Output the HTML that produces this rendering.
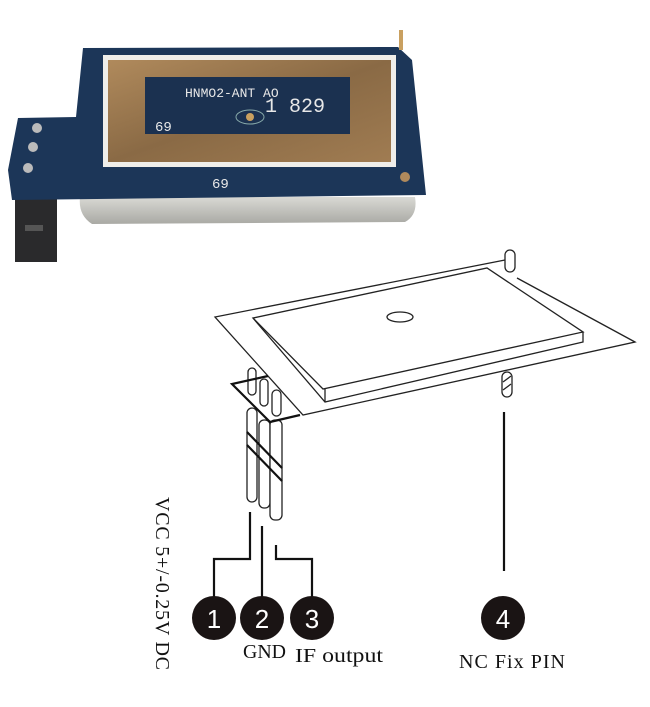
<!DOCTYPE html>
<html><head><meta charset="utf-8"><style>
html,body{margin:0;padding:0;background:#fff;}
svg{display:block}
</style></head><body>
<svg width="650" height="707" viewBox="0 0 650 707" xmlns="http://www.w3.org/2000/svg">
<defs>
<linearGradient id="gold" x1="0" y1="0" x2="1" y2="1">
<stop offset="0" stop-color="#b08a5c"/><stop offset="0.5" stop-color="#8a6a45"/><stop offset="1" stop-color="#a07c52"/>
</linearGradient>
<linearGradient id="can" x1="0" y1="0" x2="0" y2="1">
<stop offset="0" stop-color="#d9d9d4"/><stop offset="1" stop-color="#a9a9a4"/>
</linearGradient>
</defs>
<!-- photo -->
<rect x="15" y="198" width="42" height="64" fill="#2a2a2c"/>
<rect x="25" y="225" width="18" height="6" fill="#555"/>
<path d="M80 197 L415 197 Q418 215 405 222 L92 224 Q78 215 80 197 Z" fill="url(#can)"/>
<path d="M83 48 L398 47 L412 60 L426 195 L12 200 L8 170 L18 118 L76 117 Z" fill="#1c3658"/>
<rect x="103" y="55" width="293" height="112" fill="#efeeea"/>
<rect x="108" y="60" width="283" height="102" fill="url(#gold)"/>
<rect x="145" y="77" width="205" height="57" fill="#1b3150"/>
<text x="185" y="97" font-family="Liberation Mono, monospace" font-size="13" fill="#e8e8e8">HNMO2-ANT AO</text>
<text x="265" y="112" font-family="Liberation Mono, monospace" font-size="20" fill="#e8e8e8">1 829</text>
<text x="155" y="131" font-family="Liberation Mono, monospace" font-size="14" fill="#e8e8e8">69</text>
<text x="212" y="188" font-family="Liberation Mono, monospace" font-size="14" fill="#e8e8e8">69</text>
<ellipse cx="250" cy="117" rx="14" ry="7" fill="none" stroke="#8aa" stroke-width="1"/>
<circle cx="250" cy="117" r="4" fill="#c9a060"/>
<circle cx="37" cy="128" r="5" fill="#bbb"/><circle cx="33" cy="147" r="5" fill="#bbb"/><circle cx="28" cy="168" r="5" fill="#bbb"/>
<rect x="399" y="30" width="4" height="20" fill="#c9a060"/>
<circle cx="405" cy="177" r="5" fill="#b08a5c"/>
<!-- diagram board -->
<g fill="none" stroke="#222" stroke-width="1.3">
<polyline points="505,260 215,317 303,415 635,342 517,278"/>
<polygon points="253,318 487,268 583,332 323,389"/>
<polyline points="253,318 258,324 325,402 583,342 583,332"/>
<line x1="325" y1="389" x2="325" y2="402"/>
<ellipse cx="400" cy="317" rx="13" ry="5"/>
<rect x="505" y="250" width="10" height="22" rx="5" fill="#fff"/>
<rect x="502" y="372" width="10" height="25" rx="5" fill="#fff"/>
<line x1="503" y1="382" x2="511" y2="376"/><line x1="503" y1="390" x2="511" y2="384"/>
<rect x="248" y="368" width="8" height="27" rx="4" fill="#fff"/>
<rect x="260" y="379" width="8" height="27" rx="4" fill="#fff"/>
<rect x="272" y="390" width="9" height="26" rx="4.5" fill="#fff"/>
<rect x="247" y="408" width="10" height="94" rx="5" fill="#fff"/>
<rect x="259" y="420" width="11" height="88" rx="5" fill="#fff"/>
<rect x="270" y="420" width="12" height="100" rx="5" fill="#fff"/>
</g>
<g fill="none" stroke="#111" stroke-width="2.2">
<polyline points="268,376 232,384 270,422 300,415"/>
<line x1="247" y1="432" x2="282" y2="468"/>
<line x1="247" y1="445" x2="282" y2="481"/>
<polyline points="250,512 250,559 214,559 214,598"/>
<line x1="262" y1="526" x2="262" y2="598"/>
<polyline points="276,545 276,559 312,559 312,598"/>
<line x1="504" y1="412" x2="504" y2="571"/>
</g>
<g font-family="Liberation Sans, sans-serif" font-size="26" fill="#fff" text-anchor="middle">
<circle cx="214" cy="618" r="22" fill="#1a1414"/><text x="214" y="628">1</text>
<circle cx="262" cy="618" r="22" fill="#1a1414"/><text x="262" y="628">2</text>
<circle cx="312" cy="618" r="22" fill="#1a1414"/><text x="312" y="628">3</text>
<circle cx="503" cy="618" r="22" fill="#1a1414"/><text x="503" y="628">4</text>
</g>
<g font-family="Liberation Serif, serif" font-size="20" fill="#111">
<text x="243" y="658" textLength="43" lengthAdjust="spacingAndGlyphs">GND</text>
<text x="295" y="662" textLength="88" lengthAdjust="spacingAndGlyphs">IF output</text>
<text x="459" y="668" textLength="106" lengthAdjust="spacing">NC  Fix PIN</text>
<text transform="translate(156,497) rotate(90)" textLength="173" lengthAdjust="spacing">VCC  5+/-0.25V DC</text>
</g>
</svg>
</body></html>
